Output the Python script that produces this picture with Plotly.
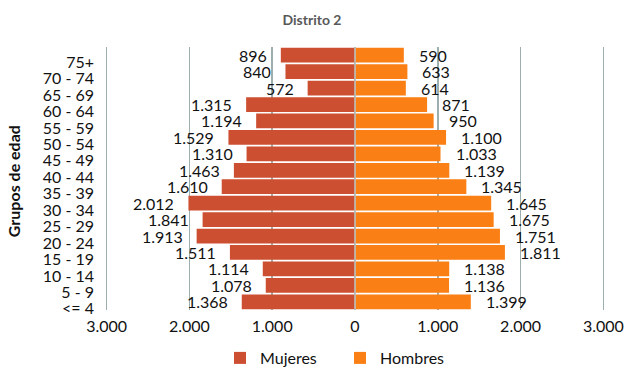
import plotly.graph_objects as go

categories = ["75+", "70 - 74", "65 - 69", "60 - 64", "55 - 59", "50 - 54", "45 - 49",
              "40 - 44", "35 - 39", "30 - 34", "25 - 29", "20 - 24", "15 - 19",
              "10 - 14", "5 - 9", "<= 4"]
mujeres = [896, 840, 572, 1315, 1194, 1529, 1310, 1463, 1610, 2012, 1841, 1913, 1511,
           1114, 1078, 1368]
hombres = [590, 633, 614, 871, 950, 1100, 1033, 1139, 1345, 1645, 1675, 1751, 1811,
           1138, 1136, 1399]
tick_vals = [-3000, -2000, -1000, 0, 1000, 2000, 3000]
tick_text = ["3.000", "2.000", "1.000", "0", "1.000", "2.000", "3.000"]

def fmt(v):
    return f"{v:,}".replace(",", ".")

# bottom-to-top order for plotting
cats = categories[::-1]
muj = mujeres[::-1]
hom = hombres[::-1]

FONT = "Lato, 'Open Sans', sans-serif"
C_M = "#CD4F32"
C_H = "#FA7F14"
GRID = "#9DAEAE"
TXT = "#111111"

fig = go.Figure()
fig.add_trace(go.Bar(y=cats, x=[-v for v in muj], orientation="h", name="Mujeres",
                     marker=dict(color=C_M, line=dict(width=0)),
                     hoverinfo="skip"))
fig.add_trace(go.Bar(y=cats, x=hom, orientation="h", name="Hombres",
                     marker=dict(color=C_H, line=dict(width=0)),
                     hoverinfo="skip"))

annotations = []
for c, v in zip(cats, muj):
    annotations.append(dict(x=-v, y=c, xref="x", yref="y", text=fmt(v), showarrow=False,
                            xanchor="right", yanchor="middle", xshift=-12,
                            font=dict(family=FONT, size=16, color=TXT)))
for c, v in zip(cats, hom):
    annotations.append(dict(x=v, y=c, xref="x", yref="y", text=fmt(v), showarrow=False,
                            xanchor="left", yanchor="middle", xshift=13,
                            font=dict(family=FONT, size=16, color=TXT)))
annotations.append(dict(x=(13 - 105) / 500, y=0.49, xref="paper", yref="paper",
                        text="<b>Grupos de edad</b>", showarrow=False, textangle=-90,
                        xanchor="center", yanchor="middle",
                        font=dict(family=FONT, size=16, color=TXT)))

fig.update_layout(
    width=633, height=378,
    margin=dict(l=105, r=28, t=47, b=68),
    paper_bgcolor="white", plot_bgcolor="white",
    barmode="relative", bargap=0.1,
    title=dict(text="<b>Distrito 2</b>", x=312 / 633, xanchor="center", y=1 - 20 / 378,
               yanchor="middle", font=dict(family=FONT, size=14, color="#595959")),
    xaxis=dict(range=[-3020, 3020], tickmode="array", tickvals=tick_vals, ticktext=tick_text,
               showgrid=True, gridcolor=GRID, gridwidth=1.5, zeroline=False,
               showline=False, ticks="", ticklabelstandoff=5, automargin=False,
               tickfont=dict(family=FONT, size=16, color=TXT), fixedrange=True),
    yaxis=dict(type="category", range=[-0.5, len(cats) - 0.5], showgrid=False,
               tickmode="array", tickvals=cats, ticktext=cats,
               zeroline=False, showline=False, ticks="", ticklabelstandoff=10,
               ticklabelshift=7, automargin=False,
               tickfont=dict(family=FONT, size=16, color=TXT), fixedrange=True),
    legend=dict(orientation="h", xref="container", yref="container",
                x=220 / 633, xanchor="left", y=1 - 358 / 378, yanchor="middle",
                entrywidth=75, entrywidthmode="pixels",
                font=dict(family=FONT, size=16, color=TXT), traceorder="normal"),
    shapes=[dict(type="line", xref="x", yref="paper", x0=0, x1=0, y0=0, y1=1,
                 line=dict(color="#B9C6CA", width=1.5), layer="above")],
    annotations=annotations,
    showlegend=True,
)

fig.write_html("out.html", config={"displayModeBar": False, "staticPlot": True},
               post_script="document.body.style.margin='0px';document.body.style.overflow='hidden';")
